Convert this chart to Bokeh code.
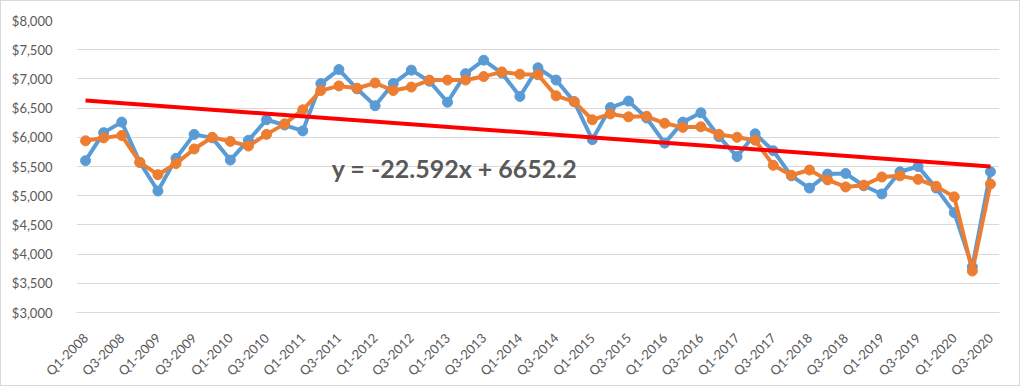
from bokeh.plotting import figure
from bokeh.embed import file_html
from bokeh.resources import INLINE
from bokeh.models import FixedTicker, NumeralTickFormatter, Range1d, Label
import math

quarters = [f"Q{q}-{y}" for y in range(2008, 2021) for q in (1, 2, 3, 4)][:51]

blue = [5600, 6080, 6260, 5570, 5080, 5640, 6050, 5990, 5610, 5950,
        6300, 6210, 6110, 6920, 7160, 6830, 6540, 6920, 7150, 6960,
        6600, 7090, 7320, 7100, 6700, 7190, 6980, 6610, 5960, 6510,
        6620, 6330, 5900, 6260, 6420, 6010, 5670, 6060, 5770, 5340,
        5130, 5370, 5380, 5170, 5030, 5410, 5500, 5130, 4710, 3780,
        5410]

orange = [5940, 5990, 6030, 5570, 5360, 5550, 5800, 6000, 5930, 5850,
          6050, 6230, 6470, 6800, 6880, 6840, 6930, 6800, 6860, 6980,
          6980, 6980, 7040, 7120, 7080, 7070, 6710, 6610, 6300, 6400,
          6350, 6360, 6240, 6170, 6180, 6050, 6000, 5950, 5520, 5350,
          5440, 5270, 5150, 5180, 5320, 5340, 5280, 5160, 4980, 3710,
          5200]

trend_x = [1, 51]
trend_y = [6629.6, 5500.0]
trend_label = "y = -22.592x + 6652.2"

idx = list(range(1, len(quarters) + 1))

p = figure(width=1020, height=386, output_backend="svg", toolbar_location=None,
           x_range=Range1d(0.5, len(quarters) + 0.5), y_range=Range1d(3000, 8000),
           min_border_left=75, min_border_right=22, min_border_top=19, min_border_bottom=75)
p.styles = {"border": "1px solid #d9d9d9", "box-sizing": "border-box"}
p.outline_line_color = None
p.background_fill_color = "white"
p.border_fill_color = "white"

p.yaxis.ticker = FixedTicker(ticks=list(range(3000, 8001, 500)))
p.yaxis.formatter = NumeralTickFormatter(format="$0,0")
p.yaxis.axis_line_color = None
p.yaxis.major_tick_line_color = None
p.yaxis.minor_tick_line_color = None
p.yaxis.major_label_standoff = 18
p.yaxis.major_label_text_font = "Lato"
p.yaxis.major_label_text_font_size = "13px"
p.yaxis.major_label_text_color = "#595959"

p.xaxis.ticker = FixedTicker(ticks=idx[::2])
p.xaxis.major_label_overrides = {i: quarters[i - 1] for i in idx}
p.xaxis.major_label_orientation = math.pi / 4
p.xaxis.axis_line_color = "#d9d9d9"
p.xaxis.major_tick_line_color = None
p.xaxis.minor_tick_line_color = None
p.xaxis.major_label_standoff = 17
p.xaxis.major_label_text_font = "Lato"
p.xaxis.major_label_text_font_size = "13px"
p.xaxis.major_label_text_color = "#595959"

p.xgrid.grid_line_color = None
p.ygrid.grid_line_color = "#d9d9d9"
p.ygrid.grid_line_width = 1

p.line(idx, blue, line_color="#5B9BD5", line_width=4)
p.scatter(idx, blue, size=10, fill_color="#5B9BD5", line_color="#5B9BD5")
p.line(idx, orange, line_color="#ED7D31", line_width=4)
p.scatter(idx, orange, size=10, fill_color="#ED7D31", line_color="#ED7D31")
p.line(trend_x, trend_y, line_color="#FF0000", line_width=4)

lab = Label(x=14.6, y=5480, text=trend_label, text_font="Lato", text_font_style="bold",
            text_font_size="25px", text_color="#595959", text_baseline="middle")
p.add_layout(lab)

open("out.html", "w").write(file_html(p, INLINE))
